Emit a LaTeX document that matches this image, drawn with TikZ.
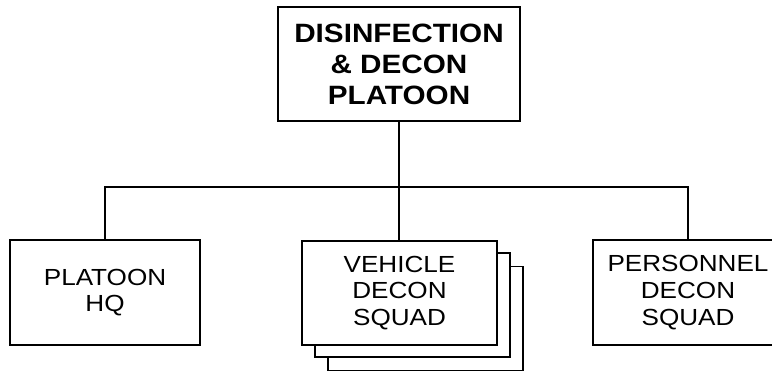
\documentclass[tikz,border=0pt]{standalone}
\usepackage{fontspec}
\setmainfont{Liberation Sans}[FakeStretch=1.12]
\begin{document}
\begin{tikzpicture}[x=1pt,y=-1pt,
  box/.style={draw=black,line width=1.3pt,fill=white,rectangle,inner sep=0pt,align=center,
    font=\fontsize{23.3}{26.7}\selectfont},
  headbox/.style={box,font=\fontsize{26.5}{31}\selectfont\bfseries},
  conn/.style={draw=black,line width=1.3pt}]
\useasboundingbox (0,0) rectangle (772,371);
\clip (0,0) rectangle (772,371);
\node[headbox,minimum width=242pt,minimum height=114pt] (top) at (399,64) {DISINFECTION\\\& DECON\\PLATOON};
\node[box,minimum width=190pt,minimum height=105pt] (left) at (105,292.5) {PLATOON\\HQ};
\node[box,minimum width=195pt,minimum height=104pt] (sh2) at (425.5,318.5) {};
\node[box,minimum width=195pt,minimum height=104pt] (sh1) at (412.5,305) {};
\node[box,minimum width=195pt,minimum height=104pt] (mid) at (399.5,293) {VEHICLE\\DECON\\SQUAD};
\node[box,minimum width=190pt,minimum height=105pt] (right) at (688,292.5) {PERSONNEL\\DECON\\SQUAD};
\coordinate (bus) at (399,187);
\path[conn] (top.south) -- (top.south |- mid.north);
\path[conn] (left.north) |- (bus) -| (right.north);
\end{tikzpicture}
\end{document}
